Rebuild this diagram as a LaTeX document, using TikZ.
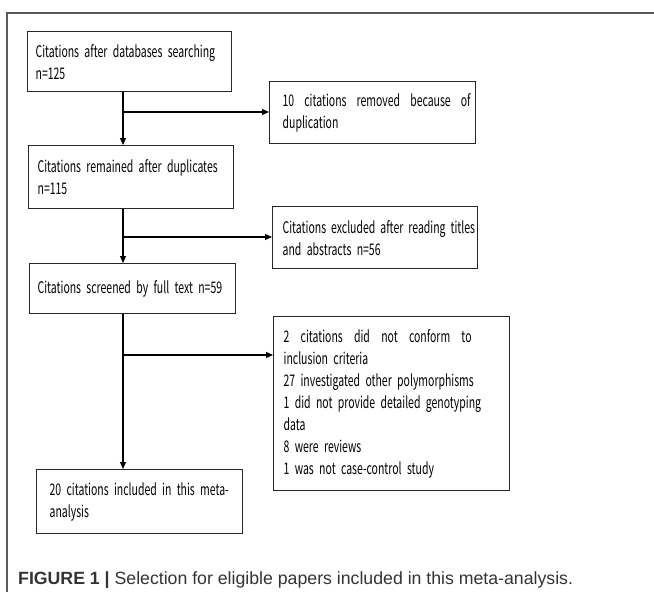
\documentclass[tikz,border=0pt]{standalone}
\usepackage{fontspec}
\setmainfont{Liberation Sans}
\newfontfamily\boxfont[FakeStretch=0.655]{Noto Sans CJK SC}
\usepackage{xcolor}
\usetikzlibrary{arrows.meta,positioning}

\definecolor{framegray}{HTML}{5A5A5A}
\definecolor{captext}{HTML}{333333}

\begin{document}
\begin{tikzpicture}[
    x=1pt, y=-1pt,
    box/.style={draw=black!85, line width=1.3pt, anchor=north west, align=left,
        font=\boxfont\fontsize{16}{22}\selectfont, inner ysep=0pt},
    arr/.style={-{Triangle[length=7pt,width=6pt]}, line width=1.1pt}
]
\useasboundingbox (0,0) rectangle (654,592);
% panel frame
\draw[framegray, line width=1.3pt] (654,13) -- (7,13) -- (7,592);

% boxes
\node[box, text width=188, inner xsep=8, minimum height=60] (found) at (27,31)
    {\mbox{Citations after databases searching}\\ n=125};
\node[box, text width=180, inner xsep=13, minimum height=62] (dup) at (269,81)
    {\makebox[188pt]{10\hfill citations\hfill removed\hfill because\hfill of}\\ duplication};
\node[box, text width=187, inner xsep=9, minimum height=63] (kept) at (28,145)
    {\mbox{Citations remained after duplicates}\\ n=115};
\node[box, text width=185, inner xsep=10, minimum height=62] (excl) at (272,206)
    {\mbox{Citations\kern-0.3pt\ excluded\kern-0.3pt\ after\kern-0.3pt\ reading\kern-0.3pt\ titles}\\ and abstracts n=56};
\node[box, text width=190, inner xsep=8, minimum height=50] (full) at (29,263)
    {\mbox{Citations screened by full text n=59}};
\node[box, text width=216, inner xsep=10, minimum height=174] (reasons) at (273,316)
    {\makebox[188pt]{2\hfill citations\hfill did\hfill not\hfill conform\hfill to}\\
     inclusion criteria\\
     \mbox{27 investigated other polymorphisms}\\
     \mbox{1 did not provide detailed genotyping}\\
     data\\
     8 were reviews\\
     \mbox{1 was not case-control study}};
\node[box, text width=180, inner xsep=13, minimum height=64] (incl) at (36,469)
    {\mbox{20 citations included in this meta-}\\ analysis};

% spine and side branches
\coordinate (sp) at (123,0);
\coordinate (j1) at (123,112);
\coordinate (j2) at (123,237);
\coordinate (j3) at (123,355);
\draw[arr] (found.south -| sp) -- (kept.north -| sp);
\draw[arr] (j1) -- (dup.west |- j1);
\draw[arr] (kept.south -| sp) -- (full.north -| sp);
\draw[arr] (j2) -- (excl.west |- j2);
\draw[arr] (full.south -| sp) -- (incl.north -| sp);
\draw[arr] (j3) -- (reasons.west |- j3);

% caption
\node[anchor=base west, inner sep=0pt, text=captext, font=\fontsize{17.7}{20}\selectfont] (cap) at (18,584)
    {\textbf{FIGURE 1 |} Selection for eligible papers included in this meta-analysis.};
\end{tikzpicture}
\end{document}
